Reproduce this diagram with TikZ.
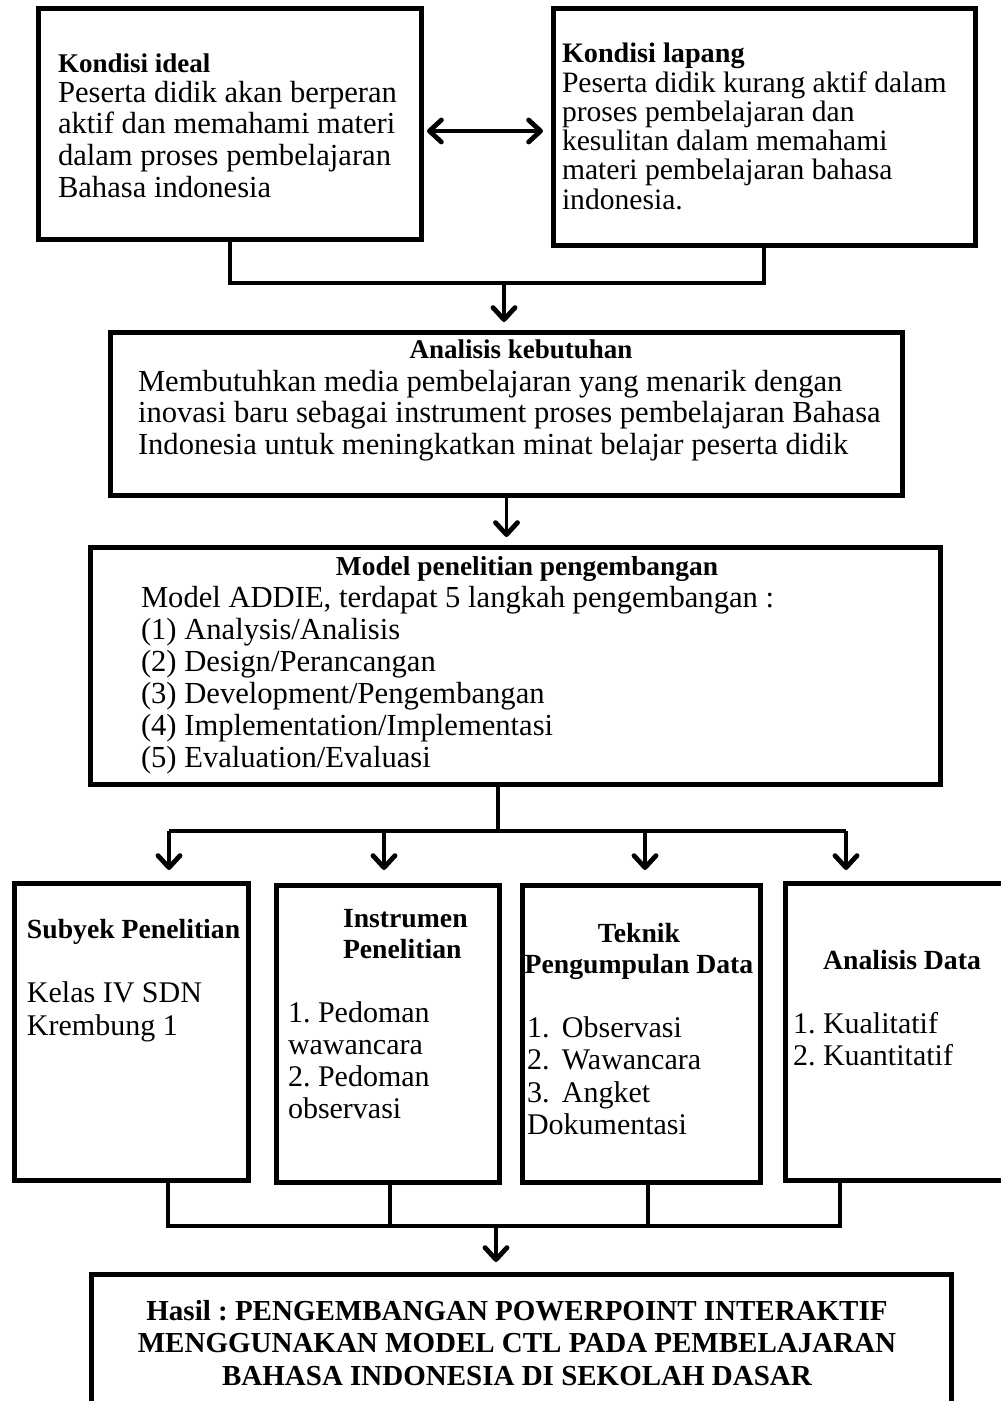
\documentclass[tikz,border=0pt]{standalone}
\usepackage{fontspec}
\setmainfont{Liberation Serif}
\usetikzlibrary{arrows.meta}
\newcommand\lns[1]{\begin{tabular}[t]{@{}l@{}}#1\end{tabular}}
\newcommand\clns[1]{\begin{tabular}[t]{@{}c@{}}#1\end{tabular}}
\frenchspacing
\begin{document}
\begin{tikzpicture}[x=1pt,y=-1pt,
  bx/.style={draw, line width=5pt, inner sep=0pt, outer sep=0pt},
  txt/.style={inner sep=0pt, outer sep=0pt, anchor=base west},
  ctxt/.style={inner sep=0pt, outer sep=0pt, anchor=base},
  conn/.style={line width=3.8pt, line join=miter},
  tipx/.tip={Straight Barb[length=12pt,width=22pt,round,line width=4.8pt]},
  arr/.style={line width=3.8pt, -tipx},
  darr/.style={line width=3.8pt, tipx-tipx}]
\useasboundingbox (0,0) rectangle (1001,1401);
\clip (0,0) rectangle (1001,1401);
\fill[white] (0,0) rectangle (1001,1401);

% boxes
\node[bx, minimum width=382.5pt, minimum height=230.5pt] (k1) at (229.75,123.75) {};
\node[bx, minimum width=422pt, minimum height=236.5pt] (k2) at (764,126.75) {};
\node[bx, minimum width=792pt, minimum height=163pt] (an) at (506.5,414) {};
\node[bx, minimum width=850pt, minimum height=237pt] (md) at (515.5,666) {};
\node[bx, minimum width=234pt, minimum height=297pt] (s1) at (131.5,1032) {};
\node[bx, minimum width=223pt, minimum height=297pt] (s2) at (388,1034) {};
\node[bx, minimum width=238pt, minimum height=297pt] (s3) at (641.5,1034) {};
\node[bx, minimum width=229pt, minimum height=297pt] (s4) at (900,1032) {};
\node[bx, minimum width=860pt, minimum height=145pt] (hs) at (521.5,1347) {};

% texts
\node[txt, font=\fontsize{27}{31}\selectfont\bfseries] (t1) at (58,72) {Kondisi ideal};
\node[txt, font=\fontsize{30.6}{31.7}\selectfont] (p1) at (58,102) {\lns{Peserta didik akan berperan\\aktif dan memahami materi\\dalam proses pembelajaran\\Bahasa indonesia}};

\node[txt, font=\fontsize{28.2}{29}\selectfont\bfseries] (t2) at (562,62) {Kondisi lapang};
\node[txt, font=\fontsize{29.6}{29.2}\selectfont] (p2) at (562,92) {\lns{Peserta didik kurang aktif dalam\\proses pembelajaran dan\\kesulitan dalam memahami\\materi pembelajaran bahasa\\indonesia.}};

\node[ctxt, font=\fontsize{27}{31}\selectfont\bfseries] (t3) at (521,358) {Analisis kebutuhan};
\node[txt, font=\fontsize{30.6}{31.5}\selectfont] (p3) at (138,391) {\lns{Membutuhkan media pembelajaran yang menarik dengan\\inovasi baru sebagai instrument proses pembelajaran Bahasa\\Indonesia untuk meningkatkan minat belajar peserta didik}};

\node[ctxt, font=\fontsize{27.4}{31}\selectfont\bfseries] (t4) at (527,575) {Model penelitian pengembangan};
\node[txt, font=\fontsize{30.6}{32}\selectfont] (p4) at (141,607) {\lns{Model ADDIE, terdapat 5 langkah pengembangan :\\(1) Analysis/Analisis\\(2) Design/Perancangan\\(3) Development/Pengembangan\\(4) Implementation/Implementasi\\(5) Evaluation/Evaluasi}};

\node[txt, font=\fontsize{27.7}{31}\selectfont\bfseries] (u1) at (27,938) {Subyek Penelitian};
\node[txt, font=\fontsize{30}{33}\selectfont] (q1) at (27,1002) {\lns{Kelas IV SDN\\Krembung 1}};

\node[txt, font=\fontsize{27.7}{31}\selectfont\bfseries] (u2) at (343,927) {\lns{Instrumen\\Penelitian}};
\node[txt, font=\fontsize{30}{32}\selectfont] (q2) at (288,1022) {\lns{1. Pedoman\\wawancara\\2. Pedoman\\observasi}};

\node[ctxt, font=\fontsize{27.7}{31}\selectfont\bfseries] (u3) at (639,942) {\clns{Teknik\\Pengumpulan Data}};
\node[txt, font=\fontsize{30}{32.6}\selectfont] (q3) at (527,1037) {\lns{\makebox[35pt][l]{1.}Observasi\\\makebox[35pt][l]{2.}Wawancara\\\makebox[35pt][l]{3.}Angket\\Dokumentasi}};

\node[ctxt, font=\fontsize{27.7}{31}\selectfont\bfseries] (u4) at (902,969) {Analisis Data};
\node[txt, font=\fontsize{30}{32}\selectfont] (q4) at (793,1033) {\lns{1. Kualitatif\\2. Kuantitatif}};

\node[ctxt, font=\fontsize{29}{32.5}\selectfont\bfseries] (h) at (517,1320) {\clns{Hasil : PENGEMBANGAN POWERPOINT INTERAKTIF\\MENGGUNAKAN MODEL CTL PADA PEMBELAJARAN\\BAHASA INDONESIA DI SEKOLAH DASAR}};

% connectors
\coordinate (dy) at (0,131);
\draw[darr, shorten <=6pt, shorten >=10pt] (k1.east |- dy) -- (k2.west |- dy);

\coordinate (j1) at (504,283);
\draw[conn] (k1.south) |- (j1) -| (k2.south);
\draw[arr, shorten >=10.5pt] (j1) -- (j1 |- an.north);
\draw[arr, shorten >=10.5pt] (an.south) -- (an.south |- md.north);

\coordinate (j2) at (498,831);
\coordinate (a1) at (169,831);
\coordinate (a2) at (384,831);
\coordinate (a3) at (645,831);
\coordinate (a4) at (846,831);
\draw[conn] (md.south -| j2) -- (j2);
\draw[conn] (a1) -- (a4);
\draw[arr, shorten >=13.5pt] (a1) -- (a1 |- s1.north);
\draw[arr, shorten >=15.5pt] (a2) -- (a2 |- s2.north);
\draw[arr, shorten >=15.5pt] (a3) -- (a3 |- s3.north);
\draw[arr, shorten >=13.5pt] (a4) -- (a4 |- s4.north);

\coordinate (b1) at (168,1226);
\coordinate (b2) at (390,1226);
\coordinate (b3) at (648,1226);
\coordinate (b4) at (840,1226);
\coordinate (b0) at (496,1226);
\draw[conn] (b1 |- s1.south) -- (b1) -- (b4) -- (b4 |- s4.south);
\draw[conn] (b2 |- s2.south) -- (b2);
\draw[conn] (b3 |- s3.south) -- (b3);
\draw[arr, shorten >=12.5pt] (b0) -- (b0 |- hs.north);
\end{tikzpicture}
\end{document}
